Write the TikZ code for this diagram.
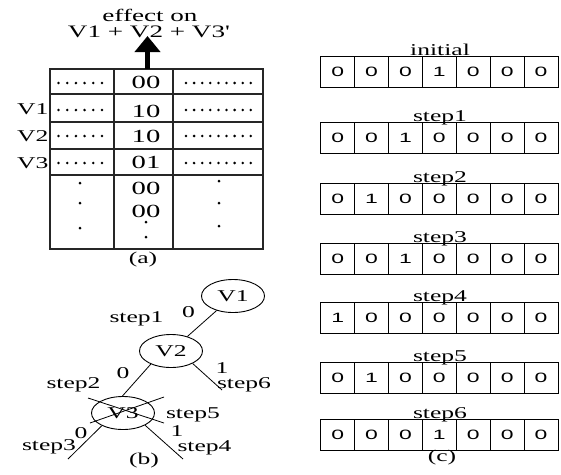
\documentclass[tikz,border=0pt]{standalone}
\usepackage{fontspec}
\usepackage{graphicx}
\setmainfont{Liberation Serif}
\newfontfamily\cellfont{Liberation Sans}
\usetikzlibrary{arrows.meta,shapes.geometric}
\newcommand\SX[1]{\scalebox{1.55}[1]{#1}}
\newcommand\SXc[1]{\scalebox{1.7}[1]{#1}}
\begin{document}
\begin{tikzpicture}[x=1pt,y=-1pt,
  txt/.style={inner sep=0pt,font=\fontsize{16.5}{18}\selectfont},
  ttl/.style={inner sep=0pt,font=\fontsize{17.5}{19}\selectfont},
  tdig/.style={inner sep=0pt,font=\fontsize{18.5}{20}\selectfont},
  tbl/.style={line width=1.1pt,black!85},
  vnode/.style={ellipse,draw,line width=0.9pt,inner sep=0pt,minimum width=63pt,minimum height=33pt,font=\fontsize{16.5}{18}\selectfont},
  edge/.style={line width=0.8pt},
  bigarrow/.style={line width=4.8pt,-{Triangle[width=25pt,length=16pt]}},
  cell/.style={draw,line width=1pt,minimum width=33.9pt,minimum height=31pt,inner sep=0pt,font=\cellfont\fontsize{13.5}{15}\selectfont},
  dot/.style={fill=black}
]
\useasboundingbox (0,0) rectangle (561,474);
\fill[white] (0,0) rectangle (561,474);

% ---------- (a) ----------
\draw[tbl] (50,69) rectangle (263,249);
\foreach \y in {94,122,149,175} \draw[tbl] (50,\y) -- (263,\y);
\draw[tbl] (114,69) -- (114,249);
\draw[tbl] (173,69) -- (173,249);
\foreach \y in {83,110,136,163}{
  \foreach \i in {0,...,5} \fill[dot] (58.5+8.7*\i,\y) circle (1.4);
  \foreach \i in {0,...,8} \fill[dot] (186+8.1*\i,\y) circle (1.4);
}
\node[tdig,anchor=base] (r1) at (146,88) {\SX{00}};
\node[tdig,anchor=base] (r2) at (146,117) {\SX{10}};
\node[tdig,anchor=base] (r3) at (146,142) {\SX{10}};
\node[tdig,anchor=base] (r4) at (146,168) {\SX{01}};
\node[tdig,anchor=base] (r5) at (146,194) {\SX{00}};
\node[tdig,anchor=base] (r6) at (146,217) {\SX{00}};
\foreach \p in {(80,183),(80,203),(80,228),(219,181),(219,203),(219,226),(146,222),(146,237)}
  \fill[dot] \p circle (1.5);
\node[txt,anchor=base east] (l1) at (48.5,114) {\SX{V1}};
\node[txt,anchor=base east] (l2) at (48.5,141.5) {\SX{V2}};
\node[txt,anchor=base east] (l3) at (48.5,168) {\SX{V3}};
\node[ttl,anchor=base] (eff) at (150,21) {\SX{effect on}};
\node[ttl,anchor=base] (vsum) at (149,37) {\SX{V1 + V2 + V3\textquotesingle}};
\coordinate (tabtop) at (147.5,69);
\coordinate (tip) at (147.5,36);
\draw[bigarrow] (tabtop) -- (tip);
\node[txt] (capa) at (143,260) {\SX{(a)}};

% ---------- (b) ----------
\node[vnode] (v1) at (233,296) {\SX{V1}};
\node[vnode] (v2) at (171,351) {\SX{V2}};
\node[vnode] (v3) at (123,413) {\SX{V3}};
\coordinate (e6) at (222,390);
\coordinate (e3) at (68,459);
\coordinate (e4) at (183,459);
\draw[edge] (v1) -- (v2);
\draw[edge] (v2.213) -- (v3.92);
\draw[edge] (v2.330) -- (e6);
\draw[edge] (v3.211) -- (e3);
\draw[edge] (v3.331) -- (e4);
\coordinate (xa) at (88,398); \coordinate (xb) at (164,423);
\coordinate (xc) at (90,423); \coordinate (xd) at (164,397);
\draw[edge] (xa) -- (xb);
\draw[edge] (xc) -- (xd);
\node[txt,anchor=base] (b0a) at (188.5,317) {\SX{0}};
\node[txt,anchor=base] (s1) at (136.5,322) {\SX{step1}};
\node[txt,anchor=base] (s2) at (73.5,388) {\SX{step2}};
\node[txt,anchor=base] (b0b) at (123,378) {\SX{0}};
\node[txt,anchor=base] (b1a) at (222,373.5) {\SX{1}};
\node[txt,anchor=base] (s6) at (244,388.5) {\SX{step6}};
\node[txt,anchor=base] (s5) at (193,418) {\SX{step5}};
\node[txt,anchor=base] (b1b) at (177,436) {\SX{1}};
\node[txt,anchor=base] (s4) at (204.5,451) {\SX{step4}};
\node[txt,anchor=base] (b0c) at (81,438) {\SX{0}};
\node[txt,anchor=base] (s3) at (49,450) {\SX{step3}};
\node[txt] (capb) at (144,461) {\SX{(b)}};

% ---------- (c) ----------
\foreach \top/\lab/\d [count=\r] in {56/initial/{0,0,0,1,0,0,0},122/step1/{0,0,1,0,0,0,0},183/step2/{0,1,0,0,0,0,0},243/step3/{0,0,1,0,0,0,0},302/step4/{1,0,0,0,0,0,0},362/step5/{0,1,0,0,0,0,0},419/step6/{0,0,0,1,0,0,0}}{
  \node[txt,anchor=base] (lab\r) at (440,\top-1) {\SX{\lab}};
  \foreach \v [count=\c] in \d
    \node[cell] (c\r-\c) at (320.7+33.9*\c-16.95,\top+15.5) {\SXc{\v}};
}
\node[txt] (capc) at (442,458) {\SX{(c)}};
\end{tikzpicture}
\end{document}
